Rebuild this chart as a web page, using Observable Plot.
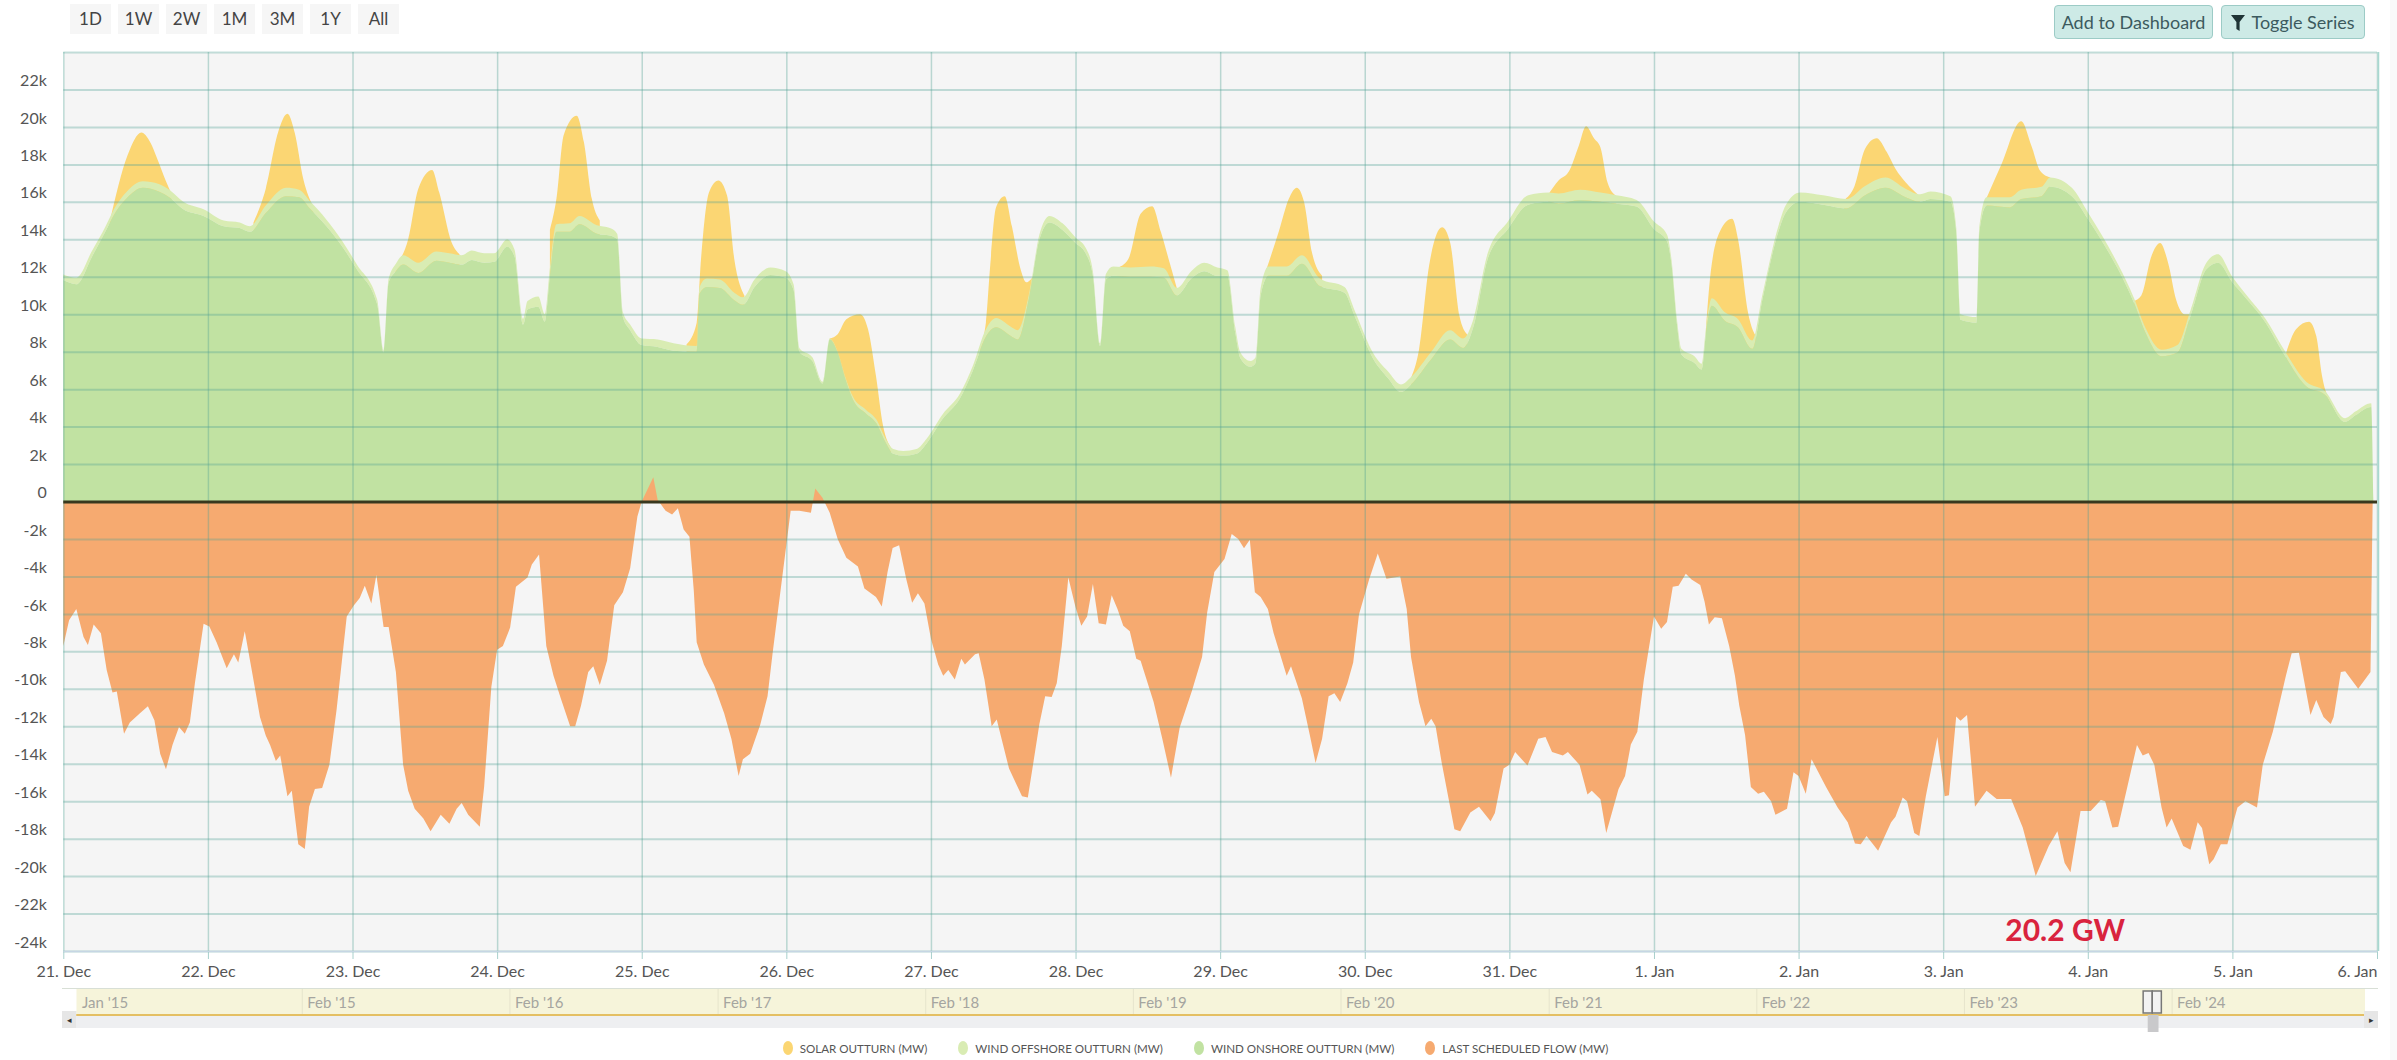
<!DOCTYPE html>
<html>
<head>
<meta charset="utf-8">
<script src="https://cdn.jsdelivr.net/npm/d3@7"></script>
<script src="https://cdn.jsdelivr.net/npm/@observablehq/plot@0.6"></script>
<style>
html,body{margin:0;padding:0;background:#fff;width:2397px;height:1060px;overflow:hidden;font-family:Lato,sans-serif;}
#strip{position:absolute;left:2390px;top:0;width:7px;height:1060px;background:#f9f9f9;}
#top{position:relative;height:40px;width:2397px;}
.rng{position:absolute;top:4px;height:30px;width:41px;background:#f6f6f6;color:#444;font-size:17px;line-height:30px;text-align:center;}
.btn{position:absolute;top:5px;height:32px;background:#cdeae6;border:1px solid #9ccbc6;border-radius:4px;color:#3c5a5e;font-size:18px;line-height:32px;text-align:center;box-sizing:content-box;}
#main svg,#nav svg{display:block;}
#nav{position:relative;height:47px;width:2397px;}
#nav svg{position:absolute;left:0;top:0;}
.sb{position:absolute;background:#eeeff1;}
.arrow{position:absolute;top:26px;height:17px;width:14px;background:#e6e6e6;border:0;color:#333;font-size:9px;line-height:17px;text-align:center;}
#legend{display:flex;justify-content:center;gap:31px;height:24px;padding-top:4px;align-items:center;font-size:11.6px;color:#555;padding-right:6px;}
.li{display:flex;align-items:center;gap:7px;}
.dot{width:10px;height:14px;border-radius:50%;display:inline-block;}
</style>
</head>
<body>
<div id="strip"></div>
<div id="top"></div>
<div id="main"></div>
<div id="nav"></div>
<div id="legend"></div>
<script>
// ---- labels ----
const rangeButtons = ["1D","1W","2W","1M","3M","1Y","All"];
const actionButtons = ["Add to Dashboard","Toggle Series"];
const dayLabels = ["21. Dec","22. Dec","23. Dec","24. Dec","25. Dec","26. Dec","27. Dec","28. Dec","29. Dec","30. Dec","31. Dec","1. Jan","2. Jan","3. Jan","4. Jan","5. Jan","6. Jan"];
const yTicks = [-24,-22,-20,-18,-16,-14,-12,-10,-8,-6,-4,-2,0,2,4,6,8,10,12,14,16,18,20,22,24];
const yLabelTicks = yTicks.filter(d => d !== 24);
const seriesNames = ["SOLAR OUTTURN (MW)","WIND OFFSHORE OUTTURN (MW)","WIND ONSHORE OUTTURN (MW)","LAST SCHEDULED FLOW (MW)"];
const seriesColors = ["#fbd673","#d9ecb3","#c1e2a2","#f6aa70"];
const annotation = "20.2 GW";
const navLabels = ["Jan '15","Feb '15","Feb '16","Feb '17","Feb '18","Feb '19","Feb '20","Feb '21","Feb '22","Feb '23","Feb '24"];
const navDates = ["2014-01-01","2015-02-01","2016-02-01","2017-02-01","2018-02-01","2019-02-01","2020-02-01","2021-02-01","2022-02-01","2023-02-01","2024-02-01"];
const navExtent = ["2014-01-01","2025-01-06"];
const navThumb = ["2023-12-21","2024-01-09"];
const navHandles = [["2023-12-13","2023-12-29"],["2023-12-29","2024-01-14"]];

// ---- values: [days since 21 Dec, onshore k MW, offshore k MW] ----
const windRows = [
[0,11.82,.3],[.09,11.6,.35],[.2,13.1,.3],[.29,14.4,.25],[.35,15.3,.3],[.44,16.2,.35],[.55,16.75,.35],[.66,16.55,.4],[.74,16.2,.4],[.83,15.6,.4],[.97,15.25,.35],
[1.11,14.7,.3],[1.22,14.6,.3],[1.29,14.4,.3],[1.4,15.4,.4],[1.54,16.3,.45],[1.63,16.25,.4],[1.71,15.6,.4],[1.82,14.7,.35],[1.93,13.6,.3],[2.03,12.4,.25],[2.17,10.55,.25],[2.215,7.95,.1],
[2.25,11.7,.2],[2.3,12.3,.4],[2.35,12.65,.5],[2.455,12.2,.55],[2.58,12.85,.5],[2.67,12.75,.5],[2.755,12.65,.5],[2.825,12.9,.5],[2.91,12.75,.5],[2.98,12.8,.45],
[3.07,13.6,.4],[3.12,13.1,.35],[3.18,9.45,.3],[3.21,10.25,.45],[3.285,10.4,.55],[3.33,9.6,.4],[3.365,12.05,.4],[3.41,14.4,.4],[3.5,14.4,.45],[3.57,14.8,.45],[3.69,14.3,.45],[3.78,14.2,.4],[3.83,14,.3],[3.87,9.85,.25],[3.92,9.15,.3],
[4,8.35,.35],[4.11,8.25,.4],[4.22,8.05,.4],[4.38,8,.3],[4.4,11.1,.35],[4.45,11.45,.45],[4.54,11.4,.45],[4.64,10.75,.4],[4.7,10.5,.4],[4.78,11.45,.4],[4.89,12.1,.4],[4.995,11.95,.35],
[5.05,11.3,.3],[5.09,8,.2],[5.18,7.5,.2],[5.25,6.3,.1],[5.3,8.65,.05],[5.355,7.95,.05],[5.41,6.5,.1],[5.46,5.45,.15],[5.55,4.7,.2],[5.62,4.2,.2],[5.69,3.1,.2],[5.74,2.55,.25],[5.81,2.45,.25],[5.9,2.55,.25],[5.97,3.1,.25],
[6.08,4.4,.25],[6.2,5.5,.25],[6.29,7,.25],[6.38,8.8,.4],[6.45,9.3,.5],[6.55,8.85,.5],[6.6,8.65,.5],[6.68,10.95,.2],[6.75,14,.25],[6.82,14.9,.35],[6.91,14.5,.35],
[7,13.8,.3],[7.07,13.25,.3],[7.12,12.05,.25],[7.17,8.3,.15],[7.21,11.85,.3],[7.26,12.05,.5],[7.38,12,.5],[7.52,12,.55],[7.61,11.95,.5],[7.7,11,.4],[7.8,11.9,.4],[7.89,12.3,.45],[7.98,12.05,.45],
[8.05,12.05,.3],[8.105,9,.3],[8.14,7.65,.3],[8.21,7.2,.3],[8.245,7.4,.3],[8.28,11,.4],[8.335,12.05,.5],[8.46,12.05,.5],[8.565,12.7,.45],[8.69,11.5,.4],[8.86,11.15,.3],[8.93,9.9,.3],
[9.06,7.6,.3],[9.16,6.6,.35],[9.25,5.85,.4],[9.32,6.25,.4],[9.46,7.6,.4],[9.59,8.65,.5],[9.68,8.2,.5],[9.75,9.3,.4],[9.85,12.95,.3],[9.99,14.55,.4],
[10.13,15.85,.5],[10.27,16,.5],[10.34,15.9,.55],[10.49,16.1,.55],[10.63,16,.5],[10.74,15.9,.45],[10.88,15.75,.35],[11,14.55,.4],[11.09,13.9,.35],[11.12,12.75,.25],[11.16,9.4,.25],[11.19,7.85,.3],[11.28,7.4,.35],[11.33,7.05,.3],
[11.36,9,.3],[11.4,10.45,.4],[11.49,9.65,.45],[11.58,9.3,.45],[11.68,8.15,.45],[11.75,10.8,.25],[11.86,14.4,.3],[11.91,15.4,.4],[12.01,16,.5],[12.17,15.85,.5],[12.33,15.65,.5],[12.46,16.35,.5],[12.6,16.75,.55],[12.74,16.25,.45],[12.84,16,.4],[12.91,16.15,.4],
[13.05,16,.3],[13.09,14.4,.25],[13.12,9.7,.3],[13.23,9.55,.3],[13.25,14.4,.3],[13.3,15.8,.45],[13.46,15.7,.55],[13.54,16.15,.5],[13.68,16.3,.5],[13.74,16.8,.5],[13.89,16.3,.45],
[14,15.1,.35],[14.11,13.75,.3],[14.21,12.4,.25],[14.32,10.6,.25],[14.4,9,.25],[14.51,7.75,.35],[14.62,7.95,.4],[14.71,9.9,.3],[14.82,12.4,.35],[14.9,12.75,.45],[15,11.7,.3],
[15.1,10.8,.2],[15.23,9.55,.2],[15.35,7.95,.25],[15.51,6.15,.25],[15.64,5.7,.2],[15.78,4.25,.2],[15.85,4.6,.2],[15.96,5.05,.2],[15.975,0,0]
];

// ---- top of the solar band over each daylight window: [days since 21 Dec, stack top k MW] ----
const solarPeaks = [
[[.32,14.9],[.445,18.5],[.54,19.7],[.6,19.2],[.66,18.1],[.71,17.1],[.75,16.4]],
[[1.315,14.9],[1.4,16.7],[1.485,19.7],[1.55,20.7],[1.6,19.7],[1.66,17.2],[1.73,15.7]],
[[2.295,12.6],[2.385,14],[2.455,16.7],[2.55,17.7],[2.6,16.5],[2.685,13.84],[2.74,13.2]],
[[3.365,14.5],[3.41,16.16],[3.46,19.55],[3.55,20.6],[3.6,19.2],[3.655,16.16],[3.71,15]],
[[4.31,8.4],[4.38,9.55],[4.41,12.95],[4.465,16.5],[4.53,17.14],[4.59,16.34],[4.64,12.95],[4.71,11]],
[[5.3,8.7],[5.355,8.93],[5.415,9.73],[5.51,10],[5.565,9.2],[5.62,6.7],[5.67,4],[5.725,2.86]],
[[6.34,8.3],[6.38,9.55],[6.41,12.6],[6.45,15.7],[6.51,16.3],[6.56,14.7],[6.62,12.4],[6.66,11.7],[6.71,12.05]],
[[7.295,12.5],[7.365,12.95],[7.45,15.36],[7.53,15.77],[7.59,14.4],[7.65,12.77],[7.7,11.4]],
[[8.32,12.4],[8.405,14.4],[8.475,16.16],[8.53,16.75],[8.58,16],[8.635,13.3],[8.705,12.05]],
[[9.32,6.6],[9.375,8.1],[9.445,12.6],[9.535,14.64],[9.59,13.84],[9.655,9.9],[9.71,8.9]],
[[10.27,16.4],[10.34,17.14],[10.41,17.6],[10.48,19],[10.53,20.04],[10.585,19.4],[10.63,18.9],[10.68,17],[10.74,16.3]],
[[11.36,9.3],[11.385,11.7],[11.455,14.4],[11.54,15.1],[11.585,13.84],[11.65,10.1],[11.72,8.66]],
[[12.315,16.1],[12.385,16.8],[12.46,18.84],[12.54,19.4],[12.61,18.66],[12.67,17.77],[12.74,17.05],[12.84,16.3]],
[[13.3,16.2],[13.4,17.95],[13.54,20.3],[13.61,19],[13.67,17.66],[13.74,17.3]],
[[14.32,10.7],[14.37,11],[14.44,13.1],[14.5,13.8],[14.56,12.6],[14.61,10.8],[14.67,10],[14.7,10]],
[[15.37,7.9],[15.44,9.2],[15.53,9.6],[15.58,8.84],[15.62,6.7],[15.69,5.1],[15.74,4.4]]
];

// ---- last scheduled flow: [days since 21 Dec, k MW] ----
const flowRows = [
[0,-7.72],[.04,-6.34],[.09,-5.74],[.14,-7.23],[.17,-7.66],[.21,-6.57],[.26,-7.03],[.3,-9],[.34,-10.2],[.37,-10.14],[.42,-12.4],[.46,-11.8],[.53,-11.3],[.585,-10.93],[.63,-11.68],[.67,-13.47],[.71,-14.3],[.755,-13],[.8,-12.04],[.84,-12.4],[.875,-11.8],[.91,-9.7],[.97,-6.53],
[1.01,-6.67],[1.06,-7.52],[1.13,-8.9],[1.18,-8.16],[1.21,-8.6],[1.255,-6.93],[1.31,-9.3],[1.36,-11.5],[1.4,-12.5],[1.43,-13],[1.47,-13.86],[1.5,-13.56],[1.55,-15.74],[1.58,-15.45],[1.625,-18.3],[1.67,-18.55],[1.7,-16.3],[1.74,-15.35],[1.79,-15.3],[1.84,-14.06],[1.89,-11.1],[1.96,-6.14],
[2.01,-5.54],[2.05,-5.15],[2.085,-4.5],[2.13,-5.45],[2.165,-3.92],[2.215,-6.7],[2.25,-6.7],[2.3,-9.1],[2.35,-14.06],[2.385,-15.45],[2.43,-16.4],[2.49,-16.93],[2.54,-17.6],[2.61,-16.73],[2.67,-17.2],[2.72,-16.4],[2.755,-16.1],[2.8,-16.73],[2.88,-17.37],[2.91,-15.25],[2.96,-9.9],
[3,-7.92],[3.04,-7.72],[3.09,-6.73],[3.13,-4.55],[3.21,-4.06],[3.24,-3.37],[3.29,-2.83],[3.32,-5.74],[3.34,-7.72],[3.39,-9.3],[3.44,-10.5],[3.505,-12],[3.54,-12],[3.58,-10.9],[3.63,-9.1],[3.665,-8.8],[3.71,-9.8],[3.76,-8.5],[3.81,-5.54],[3.87,-4.85],[3.92,-3.56],[3.97,-.8],
[4,0],[4.08,1.3],[4.11,.1],[4.165,-.5],[4.21,-.7],[4.25,-.36],[4.29,-1.5],[4.33,-1.88],[4.36,-4.75],[4.38,-7.52],[4.43,-8.7],[4.5,-9.8],[4.57,-11.3],[4.62,-12.67],[4.67,-14.65],[4.7,-13.76],[4.75,-13.47],[4.82,-11.9],[4.87,-10.4],[4.905,-8.1],[4.96,-4.75],
[5.03,-.5],[5.09,-.5],[5.17,-.6],[5.2,.7],[5.25,.2],[5.3,-.6],[5.355,-2],[5.415,-3],[5.495,-3.47],[5.54,-4.65],[5.62,-5.1],[5.66,-5.6],[5.7,-3.76],[5.735,-2.48],[5.78,-2.34],[5.83,-4.16],[5.87,-5.4],[5.91,-4.9],[5.955,-5.45],
[6,-7.33],[6.05,-8.7],[6.085,-9.3],[6.12,-9],[6.165,-9.5],[6.21,-8.4],[6.235,-8.7],[6.305,-8.16],[6.33,-8.1],[6.37,-9.5],[6.42,-12],[6.455,-11.64],[6.54,-14.26],[6.63,-15.74],[6.67,-15.8],[6.71,-13.86],[6.75,-11.88],[6.79,-10.4],[6.835,-10.44],[6.87,-9.7],[6.905,-7.72],[6.95,-4.06],
[7,-5.64],[7.04,-6.63],[7.08,-6.14],[7.12,-4.4],[7.16,-6.5],[7.21,-6.57],[7.25,-5],[7.29,-5.74],[7.33,-6.63],[7.375,-6.93],[7.42,-8.4],[7.45,-8.5],[7.54,-10.7],[7.6,-12.67],[7.66,-14.75],[7.72,-12.08],[7.805,-10.1],[7.875,-8.3],[7.91,-5.94],[7.96,-3.76],
[8.03,-3.07],[8.08,-1.74],[8.125,-2],[8.165,-2.5],[8.205,-2.04],[8.24,-4.85],[8.28,-5.1],[8.33,-5.74],[8.37,-7.03],[8.46,-9.3],[8.49,-8.8],[8.565,-10.5],[8.62,-12.47],[8.66,-13.96],[8.705,-12.67],[8.75,-10.4],[8.79,-10.24],[8.83,-10.7],[8.88,-9.7],[8.92,-8.6],[8.96,-6.04],
[9.03,-4.16],[9.09,-2.77],[9.15,-4.12],[9.245,-4],[9.29,-5.74],[9.32,-8.3],[9.375,-10.7],[9.42,-12],[9.46,-11.6],[9.49,-12],[9.53,-13.86],[9.62,-17.5],[9.66,-17.6],[9.73,-16.6],[9.79,-16.3],[9.87,-17.07],[9.9,-16.63],[9.96,-14.26],
[10,-14.06],[10.04,-13.37],[10.125,-14.1],[10.2,-12.67],[10.25,-12.57],[10.295,-13.37],[10.37,-13.56],[10.405,-13.37],[10.485,-14.06],[10.54,-15.64],[10.57,-15.45],[10.63,-15.9],[10.67,-17.7],[10.755,-15.35],[10.8,-14.65],[10.84,-12.97],[10.885,-12.3],[10.93,-9.5],
[11,-6.14],[11.05,-6.8],[11.09,-6.44],[11.13,-4.55],[11.17,-4.5],[11.22,-3.86],[11.26,-4.16],[11.32,-4.46],[11.35,-5.35],[11.38,-6.57],[11.42,-6.18],[11.47,-6.24],[11.52,-7.72],[11.56,-9.3],[11.59,-10.9],[11.63,-12.47],[11.67,-15.25],[11.72,-15.6],[11.76,-15.5],[11.81,-16],[11.84,-16.73],[11.92,-16.4],[11.965,-14.46],
[12,-14.65],[12.05,-15.6],[12.09,-13.76],[12.19,-15.25],[12.27,-16.34],[12.34,-17.13],[12.39,-18.26],[12.43,-18.3],[12.47,-17.86],[12.55,-18.65],[12.64,-17.13],[12.67,-16.83],[12.72,-15.8],[12.75,-16],[12.8,-17.7],[12.835,-17.86],[12.88,-15.74],[12.96,-12.57],
[13.01,-15.74],[13.04,-15.68],[13.09,-11.48],[13.12,-11.7],[13.165,-11.4],[13.22,-16.3],[13.3,-15.45],[13.37,-15.88],[13.47,-15.88],[13.55,-17.4],[13.64,-20],[13.73,-18.4],[13.79,-17.6],[13.84,-19.3],[13.88,-19.8],[13.95,-16.53],
[14.02,-16.53],[14.09,-15.94],[14.12,-16],[14.17,-17.4],[14.21,-17.37],[14.34,-13],[14.38,-13.56],[14.42,-13.43],[14.46,-14.06],[14.51,-16.34],[14.545,-17.4],[14.58,-16.93],[14.66,-18.4],[14.71,-18.6],[14.76,-17.13],[14.79,-17.43],[14.84,-19.37],[14.87,-19.1],[14.92,-18.3],[14.965,-18.3],
[15.035,-16.34],[15.09,-16],[15.17,-16.34],[15.21,-14.06],[15.28,-12.28],[15.37,-9.3],[15.41,-8.1],[15.46,-8.08],[15.54,-11.4],[15.58,-10.6],[15.63,-11.5],[15.68,-11.88],[15.7,-11.5],[15.75,-9.1],[15.78,-9.07],[15.87,-10],[15.955,-9.1],[15.97,0]
];

// ---- build ----
const start = Date.UTC(2023,11,21);
const toDate = d => new Date(start + d * 864e5);
const dayTicks = dayLabels.map((_, i) => toDate(i));
const labelByTime = new Map(dayTicks.map((d, i) => [+d, dayLabels[i]]));
const wind = windRows.map(([d,on,off]) => ({t: toDate(d), on, top: on + off}));
const solar = solarPeaks.flatMap((peak, p) => peak.map(([d,k]) => ({t: toDate(d), k, p})));
const flow = flowRows.map(([d,k]) => ({t: toDate(d), k}));

const gridStroke = "#4fa094";
const main = Plot.plot({
  width: 2397, height: 945,
  marginLeft: 63.3, marginRight: 20, marginTop: 12, marginBottom: 34,
  style: {fontFamily: "Lato, sans-serif", background: "transparent"},
  x: {type: "utc", domain: [toDate(0), toDate(16)], ticks: dayTicks, tickFormat: d => labelByTime.get(+d), tickSize: 8, tickPadding: 6, label: null},
  y: {domain: [-24, 24], ticks: yLabelTicks, tickFormat: d => d === 0 ? "0" : d + "k", tickSize: 0, tickPadding: 17, label: null},
  marks: [
    Plot.frame({fill: "#f5f5f5", stroke: "none"}),
    Plot.areaY(solar, {x: "t", y1: 0, y2: "k", z: "p", fill: seriesColors[0], curve: "monotone-x"}),
    Plot.areaY(wind, {x: "t", y1: "on", y2: "top", fill: seriesColors[1], curve: "monotone-x"}),
    Plot.areaY(wind, {x: "t", y1: 0, y2: "on", fill: seriesColors[2], curve: "monotone-x"}),
    Plot.areaY(flow, {x: "t", y: "k", fill: seriesColors[3]}),
    Plot.ruleY(yTicks, {stroke: gridStroke, strokeOpacity: 0.33, strokeWidth: 2}),
    Plot.ruleX(dayTicks, {stroke: gridStroke, strokeOpacity: 0.36, strokeWidth: 1.5}),
    Plot.ruleY([-24], {stroke: "#c6d6e4", strokeWidth: 1.5}),
    Plot.ruleX([toDate(16)], {dx: 1, stroke: "#a8d8d0", strokeWidth: 1.5}),
    Plot.ruleY([0], {stroke: "#38381e", strokeWidth: 3}),
    Plot.text([annotation], {x: [toDate(13.84)], y: [-22.9], text: d => d, fill: "#d9233e", fontSize: 30, fontWeight: 700})
  ]
});
// labels sit above the grid line they name, as in the source chart
main.querySelectorAll('[aria-label="y-axis tick label"] text').forEach(t => t.setAttribute("dy", "-9"));
const xLabels = main.querySelectorAll('[aria-label="x-axis tick label"] text');
if (xLabels.length) xLabels[xLabels.length - 1].setAttribute("text-anchor", "end");
const mainStyle = document.createElement("style");
mainStyle.textContent = '#main svg{font-size:16px;color:#555;} #main [aria-label="x-axis tick"]{stroke:#a8d0cc;}';
document.head.appendChild(mainStyle);
document.getElementById("main").appendChild(main);

// header
const top_ = document.getElementById("top");
rangeButtons.forEach((b, i) => {
  const e = document.createElement("div");
  e.className = "rng"; e.textContent = b; e.style.left = (70 + i * 48) + "px";
  top_.appendChild(e);
});
const dash = document.createElement("div");
dash.className = "btn"; dash.textContent = actionButtons[0];
dash.style.left = "2054px"; dash.style.width = "157px";
top_.appendChild(dash);
const tog = document.createElement("div");
tog.className = "btn"; tog.style.left = "2221px"; tog.style.width = "142px";
tog.innerHTML = '<svg width="14" height="16" viewBox="0 0 14 16" style="vertical-align:-2px;margin-right:6px"><path d="M0 0H14L8.6 7V16L5.4 14V7Z" fill="#1f3436"/></svg>' + actionButtons[1];
top_.appendChild(tog);

// navigator
const navEl = document.getElementById("nav");
const sb = document.createElement("div");
sb.className = "sb";
sb.style.cssText = "left:62px;width:2316px;top:26px;height:17px";
navEl.appendChild(sb);
const parse = s => new Date(s + "T00:00:00Z");
const nd = navDates.map((s, i) => ({t: parse(s), label: navLabels[i]}));
const [n0, n1] = navExtent.map(parse);
const [t0, t1] = navThumb.map(parse);
const handles = navHandles.map(([a, b]) => ({a: parse(a), b: parse(b)}));
const nav = Plot.plot({
  width: 2397, height: 47,
  marginLeft: 76.5, marginRight: 32, marginTop: 0, marginBottom: 0,
  style: {fontFamily: "Lato, sans-serif", background: "transparent"},
  x: {type: "utc", domain: [n0, n1], axis: null},
  y: {domain: [0, 47], reverse: true, axis: null},
  marks: [
    Plot.rect([{a: n0, b: n1}], {x1: "a", x2: "b", y1: 4, y2: 30, fill: "#f6f4da"}),
    Plot.ruleX(nd.slice(1), {x: "t", y1: 4, y2: 29, stroke: "#e6e4cc", strokeWidth: 1}),
    Plot.lineY([{t: n0, v: 29.5}, {t: n1, v: 29.5}], {x: "t", y: "v", stroke: "#e4bf63", strokeWidth: 2}),
    Plot.text(nd, {x: "t", y: 18, text: "label", dx: 5, textAnchor: "start", fill: "#a5a5a0", fontSize: 15}),
    Plot.rect([{a: t0, b: t1}], {x1: "a", x2: "b", y1: 30, y2: 47, fill: "#c9c9cb"}),
    Plot.rect(handles, {x1: "a", x2: "b", y1: 6, y2: 28, fill: "#f2f2f2", stroke: "#777", strokeWidth: 1.5}),
  ]
});
navEl.appendChild(nav);
[["left:62px","&#9666;"],["left:2364px","&#9656;"]].forEach(([pos, g]) => {
  const a = document.createElement("div");
  a.className = "arrow"; a.style.cssText = pos; a.innerHTML = g;
  navEl.appendChild(a);
});
// top edge of the navigator band, full chart width
const navTop = document.createElement("div");
navTop.style.cssText = "position:absolute;left:62px;width:2316px;top:3px;height:1px;background:#d8dfd6";
navEl.appendChild(navTop);

// legend
const lg = document.getElementById("legend");
seriesNames.forEach((name, i) => {
  const it = document.createElement("div");
  it.className = "li";
  it.innerHTML = `<span class="dot" style="background:${seriesColors[i]}"></span><span>${name}</span>`;
  lg.appendChild(it);
});
</script>
</body>
</html>
